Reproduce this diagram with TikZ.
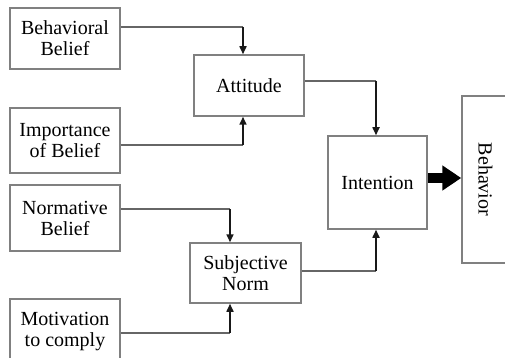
\documentclass[tikz,border=0pt]{standalone}
\usepackage{fontspec}
\setmainfont{Liberation Serif}
\usetikzlibrary{arrows.meta,calc}
\begin{document}
\begin{tikzpicture}[x=1pt,y=-1pt,
  box/.style={draw=black!50, line width=1.5pt, fill=white, align=center, inner sep=0pt,
    font=\fontsize{20}{21}\selectfont},
  hline/.style={draw=black!60, line width=1.6pt},
  vline/.style={draw=black!90, line width=1.6pt, -{Triangle[length=8pt,width=7pt]}},
  fat/.style={draw=black, line width=10pt, -{Triangle[length=19pt,width=24pt]}}]
\useasboundingbox (0,0) rectangle (505,358);
\node[box, minimum width=110pt, minimum height=61pt] (bb) at (65,38.5) {Behavioral\\Belief};
\node[box, minimum width=110pt, minimum height=65pt] (ib) at (65,140.5) {Importance\\of Belief};
\node[box, minimum width=110pt, minimum height=66pt] (nb) at (65,218) {Normative\\Belief};
\node[box, minimum width=110pt, minimum height=65pt] (mc) at (65,331.5) {Motivation\\to comply};
\node[box, minimum width=110pt, minimum height=61pt] (att) at (249,85.5) {Attitude};
\node[box, minimum width=111pt, minimum height=60pt] (sn) at (245.5,273) {Subjective\\Norm};
\node[box, minimum width=99pt, minimum height=93pt] (int) at (377.5,182.5) {Intention};
\node[box, minimum width=47pt, minimum height=167pt] (beh) at (485.5,179.5) {};
\node[font=\fontsize{20}{21}\selectfont, rotate=-90, inner sep=0pt] (behl) at (beh.center) {Behavior};
% connectors
\coordinate (c1) at ([yshift=11.5pt]bb.east);
\coordinate (k1) at (243,0);
\draw[hline] (c1) -- (c1 -| k1);
\draw[vline] (c1 -| k1) -- (att.north -| k1);
\coordinate (c2) at ([yshift=-4.5pt]ib.east);
\draw[hline] (c2) -- (c2 -| k1);
\draw[vline] (c2 -| k1) -- (att.south -| k1);
\coordinate (c3) at ([yshift=4.5pt]att.east);
\coordinate (k2) at (376,0);
\draw[hline] (c3) -- (c3 -| k2);
\draw[vline] (c3 -| k2) -- (int.north -| k2);
\coordinate (c4) at ([yshift=9pt]nb.east);
\coordinate (k3) at (230,0);
\draw[hline] (c4) -- (c4 -| k3);
\draw[vline] (c4 -| k3) -- (sn.north -| k3);
\coordinate (c5) at ([yshift=-1.5pt]mc.east);
\draw[hline] (c5) -- (c5 -| k3);
\draw[vline] (c5 -| k3) -- (sn.south -| k3);
\coordinate (c6) at ([yshift=2pt]sn.east);
\draw[hline] (c6) -- (c6 -| k2);
\draw[vline] (c6 -| k2) -- (int.south -| k2);
\coordinate (c7) at ([yshift=4.5pt]int.east);
\draw[fat] (c7) -- (c7 -| beh.west);
\end{tikzpicture}
\end{document}
